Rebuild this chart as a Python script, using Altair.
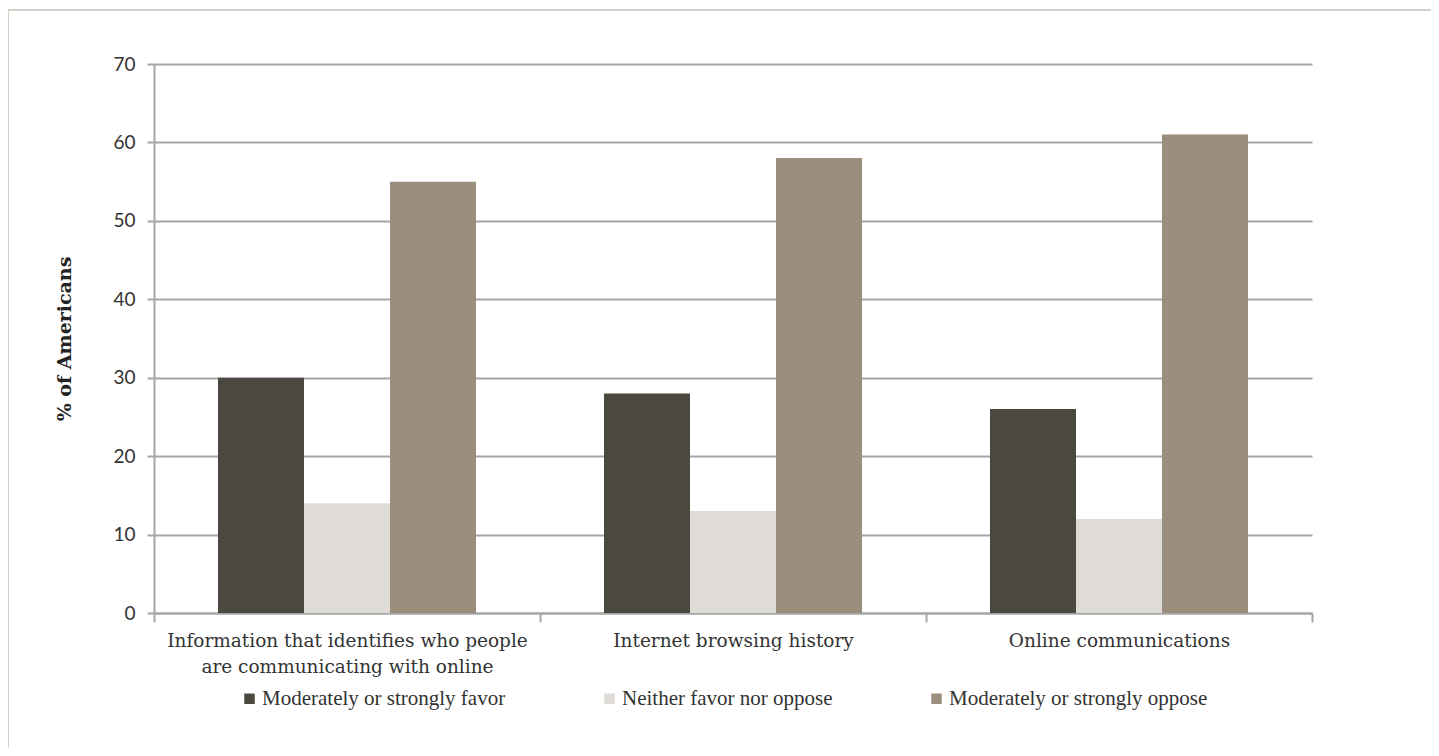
import altair as alt
import pandas as pd

categories = [
    "Information that identifies who people are communicating with online",
    "Internet browsing history",
    "Online communications",
]
series = ["Moderately or strongly favor", "Neither favor nor oppose", "Moderately or strongly oppose"]
favor = [30, 28, 26]
neither = [14, 13, 12]
oppose = [55, 58, 61]
colors = ["#4b4840", "#dfdcd7", "#9b8e7c"]

rows = []
for i, c in enumerate(categories):
    for s, vals in zip(series, [favor, neither, oppose]):
        rows.append({"category": c, "series": s, "value": vals[i]})
df = pd.DataFrame(rows)

W, H = 1158, 549

label_expr = ("datum.value == '" + categories[0] + "' ? "
              "['Information that identifies who people', 'are communicating with online'] : datum.label")

bars = alt.Chart(df).mark_bar().encode(
    x=alt.X("category:N", sort=categories,
            scale=alt.Scale(paddingInner=0, paddingOuter=0),
            axis=alt.Axis(title=None, labelAngle=0, labelExpr=label_expr,
                          labelFont="DejaVu Serif", labelFontSize=18.5, labelColor="#333333",
                          labelLineHeight=26, labelPadding=9, tickBand="extent",
                          tickSize=9, tickWidth=2, tickColor="#a6a6a6",
                          domainColor="#a6a6a6", domainWidth=2, grid=False,
                          labelLimit=500)),
    xOffset=alt.XOffset("series:N", sort=series,
                        scale=alt.Scale(paddingInner=0, paddingOuter=0.744)),
    y=alt.Y("value:Q", scale=alt.Scale(domain=[0, 70]),
            axis=alt.Axis(title="% of Americans", values=list(range(0, 71, 10)),
                          titleFont="DejaVu Serif", titleFontSize=19, titleFontWeight="bold",
                          titleColor="#222222", titlePadding=38,
                          labelFont="Lato", labelFontSize=19, labelColor="#333333",
                          labelPadding=12, tickSize=7, tickWidth=2, tickColor="#a6a6a6",
                          domainColor="#a6a6a6", domainWidth=2,
                          gridColor="#a6a6a6", gridWidth=2)),
    color=alt.Color("series:N", sort=series,
                    scale=alt.Scale(domain=series, range=colors),
                    legend=alt.Legend(title=None, orient="none", direction="horizontal",
                                      legendX=85, legendY=624,
                                      symbolType="square", symbolSize=110,
                                      symbolStrokeWidth=0, symbolOpacity=1,
                                      labelFont="Liberation Serif", labelFontSize=21,
                                      labelColor="#333333", columnPadding=93,
                                      labelOffset=2, labelLimit=400)),
)

frame_top = alt.Chart(pd.DataFrame({"v": [0]})).mark_rule(
    color="#d5d0ca", strokeWidth=2, clip=False).encode(
    x=alt.value(-146), x2=alt.value(1290), y=alt.value(-54))
frame_left = alt.Chart(pd.DataFrame({"v": [0]})).mark_rule(
    color="#d5d0ca", strokeWidth=2, clip=False).encode(
    x=alt.value(-146), y=alt.value(-54), y2=alt.value(700))

chart = alt.layer(frame_top, frame_left, bars).properties(
    width=W, height=H,
    autosize=alt.AutoSizeParams(type="none"),
    padding={"left": 146, "top": 56, "right": 119, "bottom": 135},
).configure_view(stroke=None).configure_axis(labelFontWeight="normal")

chart.save("out.html", embed_options={"renderer": "svg", "actions": False})
